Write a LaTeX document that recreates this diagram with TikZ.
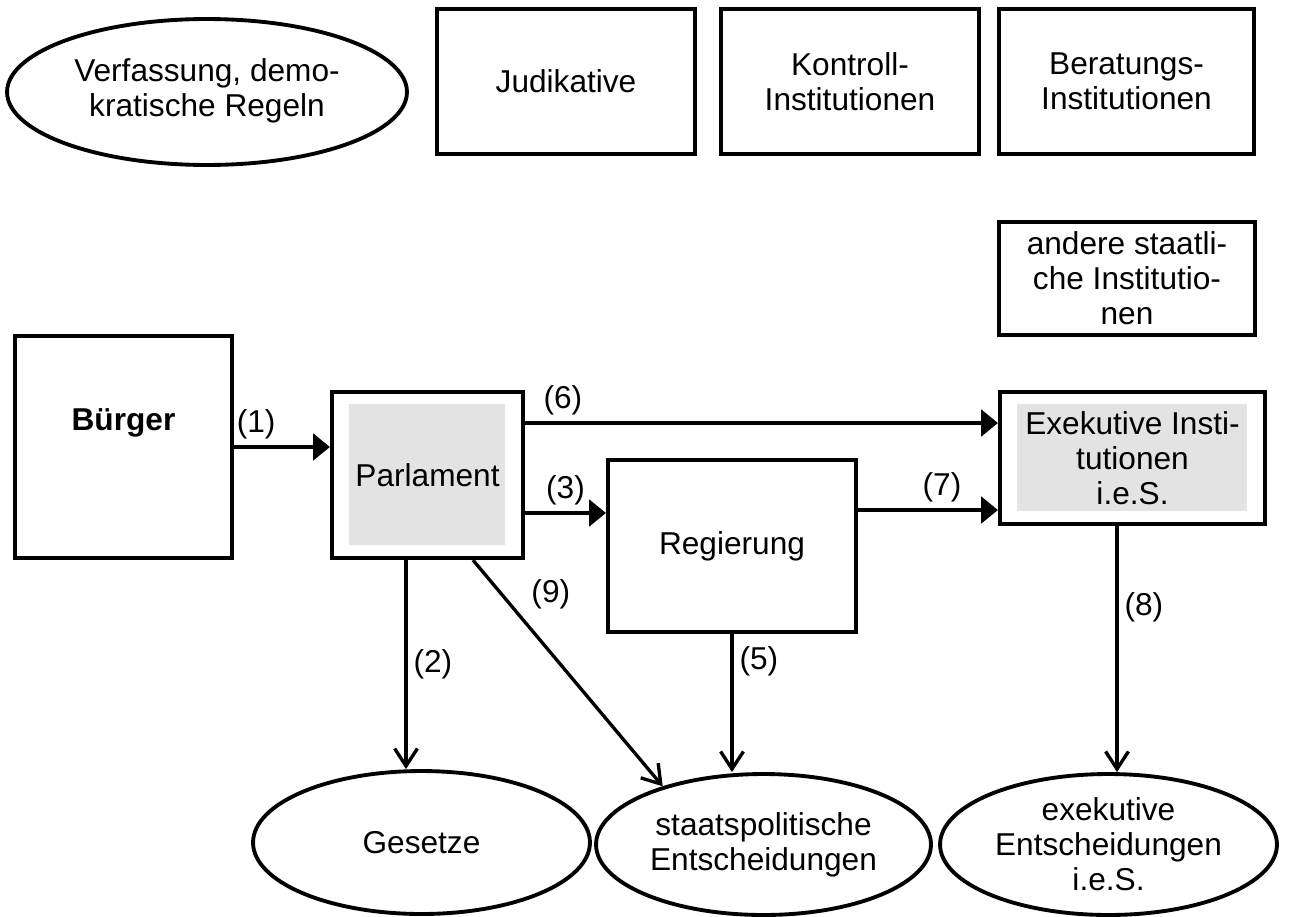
\documentclass[tikz,border=0pt]{standalone}
\usepackage{fontspec}
\setmainfont{Liberation Sans}
\usetikzlibrary{arrows.meta,shapes.geometric}
\definecolor{boxgray}{RGB}{227,227,227}

\begin{document}
\begin{tikzpicture}[x=0.02cm,y=-0.02cm]
  \tikzset{every node/.style={font=\fontsize{18}{20}\selectfont,align=center}}
  \tikzset{box/.style={draw,line width=2.4pt,inner sep=0pt}}
  \tikzset{oval/.style={draw,ellipse,line width=2.2pt,inner sep=0pt}}
  \tikzset{innergray/.style={path picture={\fill[boxgray] ([shift={(0.34cm,-0.24cm)}]path picture bounding box.north west) rectangle ([shift={(-0.36cm,0.25cm)}]path picture bounding box.south east);}}}
  \tikzset{fillarrow/.style={-{Triangle[length=9.5pt,width=15pt]},line width=1.9pt}}
  \tikzset{openarrow/.style={-{Straight Barb[length=10pt,width=13pt]},line width=1.9pt}}
  \useasboundingbox (0,0) rectangle (1290,916);
  % top row
  \node[oval,minimum width=8cm,minimum height=2.92cm] (verf) at (207,92) {\raisebox{0.3cm}{\begin{tabular}{@{}c@{}}Verfassung, demo-\\kratische Regeln\end{tabular}}};
  \node[box,minimum width=5.16cm,minimum height=2.9cm] (judi) at (566,81.5) {Judikative};
  \node[box,minimum width=5.16cm,minimum height=2.9cm] (kontr) at (850,81.5) {Kontroll-\\Institutionen};
  \node[box,minimum width=5.1cm,minimum height=2.9cm] (berat) at (1126.5,81.5) {Beratungs-\\Institutionen};
  \node[box,minimum width=5.12cm,minimum height=2.26cm] (andere) at (1127,278.5) {andere staatli-\\che Institutio-\\nen};
  % middle row
  \node[box,minimum width=4.34cm,minimum height=4.44cm] (buerger) at (123.5,447) {\raisebox{1.1cm}{\textbf{Bürger}}};
  \node[box,innergray,minimum width=3.82cm,minimum height=3.32cm] (parl) at (427.5,475) {Parlament};
  \node[box,minimum width=4.96cm,minimum height=3.44cm] (regier) at (732,546) {Regierung};
  \node[box,innergray,minimum width=5.3cm,minimum height=2.64cm] (exek) at (1132.5,458) {Exekutive Insti-\\tutionen\\i.e.S.};
  % bottom row
  \node[oval,minimum width=6.74cm,minimum height=2.86cm] (gesetze) at (421.5,842.5) {Gesetze};
  \node[oval,minimum width=6.7cm,minimum height=2.82cm] (staats) at (763.5,844.5) {staatspolitische\\Entscheidungen};
  \node[oval,minimum width=6.74cm,minimum height=2.82cm] (exents) at (1108.5,844.5) {exekutive\\Entscheidungen\\i.e.S.};
  % connector ends
  \coordinate (p2) at ([xshift=-0.43cm]parl.south);
  \coordinate (p3) at ([yshift=-0.76cm]parl.east);
  \coordinate (p6) at ([yshift=1.04cm]parl.east);
  \coordinate (p7) at ([yshift=0.72cm]regier.east);
  \coordinate (p8) at ([xshift=-0.31cm]exek.south);
  \coordinate (p9) at ([xshift=0.91cm]parl.south);
  \draw[fillarrow] (buerger.east) --node[above,pos=0.23]{(1)} (buerger.east -| parl.west);
  \draw[openarrow] (p2) --node[right]{(2)} (p2 |- gesetze.north);
  \draw[fillarrow] (p3) --node[above]{(3)} (p3 -| regier.west);
  \draw[openarrow] (regier.south) --node[right,pos=0.2]{(5)} (regier.south |- staats.north);
  \draw[fillarrow] (p6) --node[above,pos=0.08]{(6)} (p6 -| exek.west);
  \draw[fillarrow] (p7) --node[above,pos=0.6]{(7)} (p7 -| exek.west);
  \draw[openarrow] (p8) --node[right,pos=0.33]{(8)} (p8 |- exents.north);
  \draw[openarrow] (p9) --node[right,pos=0.15,xshift=0.45cm]{(9)} (staats.150);
\end{tikzpicture}
\end{document}
